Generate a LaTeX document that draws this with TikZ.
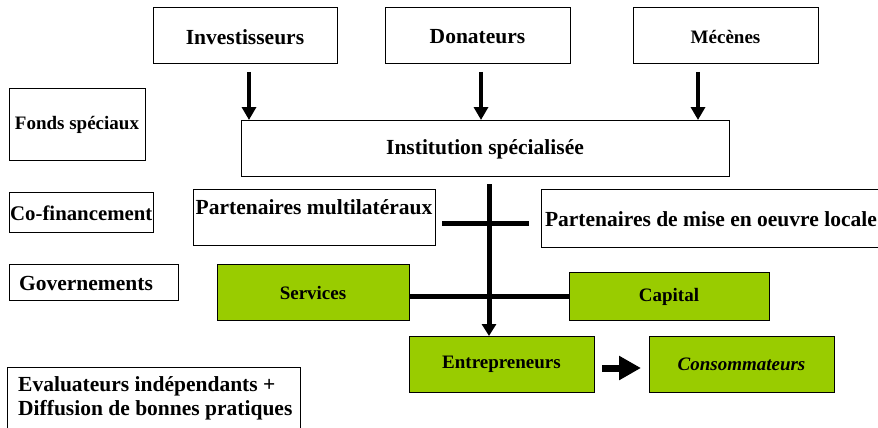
\documentclass[tikz,border=0pt]{standalone}
\usepackage{fontspec}
\setmainfont{Liberation Serif}
\usetikzlibrary{arrows.meta,calc}
\definecolor{grn}{RGB}{153,204,0}
\begin{document}
\begin{tikzpicture}[x=1pt,y=-1pt,
  box/.style={draw=black,line width=1pt,fill=white},
  gbox/.style={draw=black,line width=1pt,fill=grn},
  big/.style={font=\fontsize{21.5}{24.5}\selectfont\bfseries},
  small/.style={font=\fontsize{19}{21.5}\selectfont\bfseries},
  flow/.style={line width=4pt,-{Triangle[width=14pt,length=13pt]}},
  bar/.style={line width=5pt}]
\useasboundingbox (0,0) rectangle (878,428);
% top boxes
\draw[box] (153,8) rectangle (337,64);
\node[big] (inv) at (245,37) {Investisseurs};
\draw[box] (385,8) rectangle (570,64);
\node[big] (don) at (477.5,37) {Donateurs};
\draw[box] (633,8) rectangle (818,64);
\node[small] (mec) at (725.5,37) {Mécènes};
% institution
\draw[box] (241,120) rectangle (729,176);
\node[big] (inst) at (485,149) {Institution spécialisée};
\coordinate (ia) at (249,72); \coordinate (ib) at (249,120);
\coordinate (da) at (481,72); \coordinate (db) at (481,120);
\coordinate (ma) at (698,72); \coordinate (mb) at (698,120);
\draw[flow] (ia) -- (ib);
\draw[flow] (da) -- (db);
\draw[flow] (ma) -- (mb);
% left column
\draw[box] (9,88) rectangle (145,160);
\node[small] (fonds) at (77,125) {Fonds spéciaux};
\draw[box] (9,192) rectangle (153,232);
\node[font=\fontsize{20.8}{24}\selectfont\bfseries,anchor=west,inner sep=0pt] (cofi) at (10,213) {Co-financement};
\draw[box] (9,264) rectangle (178,300);
\node[big] (gov) at (86,283) {Governements};
\draw[box] (7,367) rectangle (300,440);
\node[big,anchor=north west,align=left,inner sep=0pt] (eval) at (18,376) {Evaluateurs indépendants +\\Diffusion de bonnes pratiques};
% partners
\draw[box] (193,189) rectangle (435,245);
\node[big] (multi) at (314,207) {Partenaires multilatéraux};
\draw[box] (541,189) rectangle (890,247);
\node[big,anchor=east,inner sep=0pt] (loc) at (877,219) {Partenaires de mise en oeuvre locale};
% green boxes
\draw[gbox] (217,264) rectangle (409,320);
\node[small] (serv) at (313,293) {Services};
\draw[gbox] (569,272) rectangle (769,320);
\node[small] (cap) at (669,297) {Capital};
\draw[gbox] (409,336) rectangle (594,392);
\node[small] (ent) at (501.5,364) {Entrepreneurs};
\draw[gbox] (649,336) rectangle (834,392);
\node[small,font=\fontsize{19}{21.5}\selectfont\bfseries\itshape] (cons) at (741.5,364) {Consommateurs};
% connectors
\coordinate (vt) at (489,184); \coordinate (vb) at (489,336);
\draw[line width=5pt,-{Triangle[width=14pt,length=12pt]}] (vt) -- (vb);
\coordinate (h1) at (442,223); \coordinate (h2) at (529,223);
\draw[bar] (h1) -- (h2);
\coordinate (s1) at (409,296); \coordinate (s2) at (569,296);
\draw[bar] (s1) -- (s2);
\coordinate (e1) at (602,368); \coordinate (e2) at (641,368);
\draw[line width=7pt,-{Triangle[width=23pt,length=22pt]}] (e1) -- (e2);
\end{tikzpicture}
\end{document}
